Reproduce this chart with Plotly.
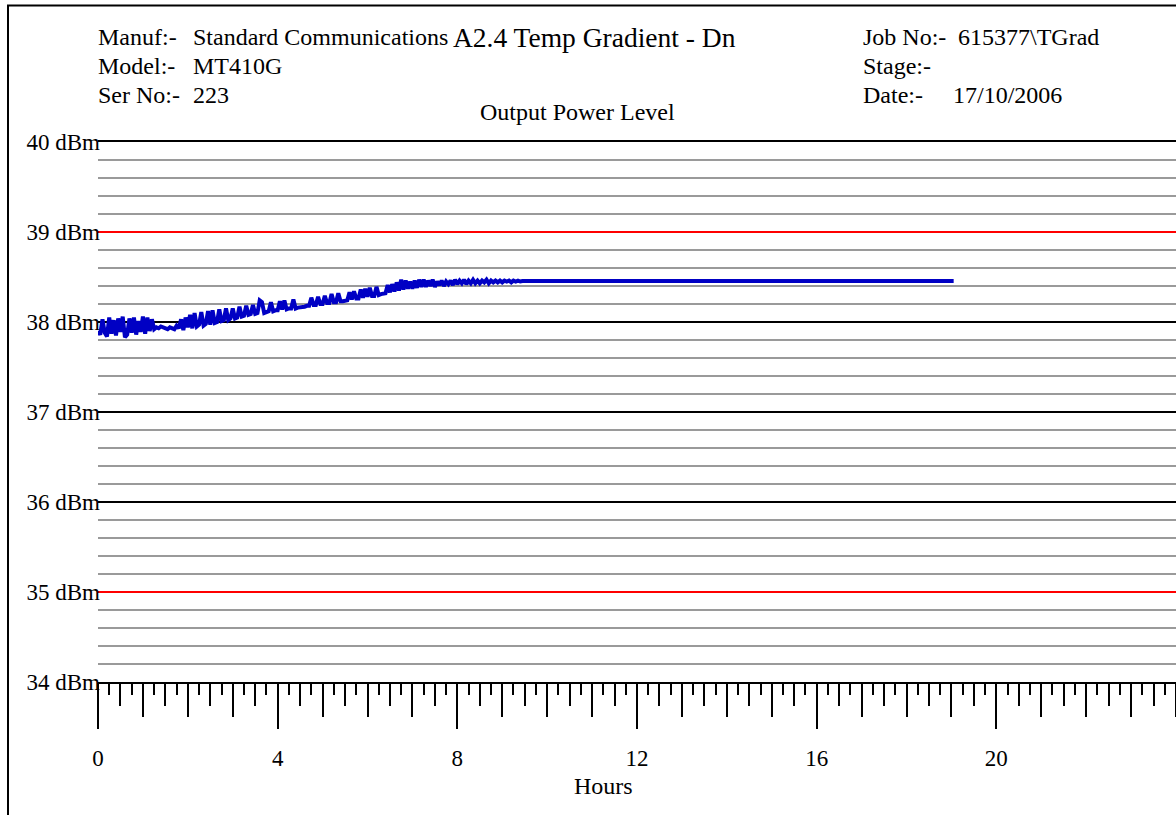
import plotly.graph_objects as go

# ---- data ----
# samples every 0.05 h from 0 to 9.5 h, then the flat part to ~19 h
hours = [round(i * 0.05, 2) for i in range(191)] + [10, 12, 14, 16, 18, 19.05]
power_dbm = [
    37.90, 37.86, 38.03, 37.88, 37.84, 38.05, 37.87, 38.02, 37.85, 38.04,
    37.89, 38.06, 37.83, 37.86, 38.04, 37.88, 38.05, 37.86, 38.01, 37.89,
    38.06, 37.87, 38.05, 37.90, 38.03, 37.92, 37.94, 37.93, 37.95, 37.94,
    37.93, 37.92, 37.94, 37.93, 37.92, 37.96, 37.93, 38.03, 37.91, 38.05,
    37.94, 38.08, 37.93, 38.10, 37.95, 37.97, 38.11, 37.96, 37.98, 38.12,
    37.97, 38.13, 37.99, 38.00, 38.14, 38.01, 38.02, 38.15, 38.02, 38.04,
    38.15, 38.04, 38.05, 38.17, 38.06, 38.07, 38.18, 38.08, 38.09, 38.19,
    38.09, 38.10, 38.24, 38.22, 38.10, 38.11, 38.12, 38.22, 38.12, 38.13,
    38.13, 38.23, 38.14, 38.24, 38.14, 38.15, 38.15, 38.25, 38.15, 38.16,
    38.16, 38.17, 38.17, 38.18, 38.18, 38.27, 38.19, 38.19, 38.28, 38.20,
    38.20, 38.29, 38.21, 38.21, 38.31, 38.22, 38.22, 38.32, 38.23, 38.23,
    38.24, 38.24, 38.33, 38.25, 38.34, 38.26, 38.26, 38.36, 38.27, 38.37,
    38.28, 38.38, 38.29, 38.29, 38.39, 38.30, 38.31, 38.31, 38.32, 38.41,
    38.33, 38.42, 38.34, 38.44, 38.35, 38.47, 38.36, 38.46, 38.37, 38.45,
    38.37, 38.46, 38.38, 38.47, 38.39, 38.47, 38.39, 38.46, 38.40, 38.47,
    38.39, 38.45, 38.41, 38.46, 38.40, 38.45, 38.42, 38.46, 38.41, 38.47,
    38.42, 38.46, 38.43, 38.47, 38.42, 38.46, 38.43, 38.47, 38.43, 38.46,
    38.43, 38.46, 38.44, 38.47, 38.43, 38.46, 38.44, 38.46, 38.44, 38.46,
    38.44, 38.46, 38.45, 38.46, 38.44, 38.46, 38.45, 38.46, 38.45, 38.455,
    38.455,
    38.455, 38.455, 38.455, 38.455, 38.455, 38.455,
]
limit_lines = [35, 39]
x_range = [0, 24]
y_range = [34, 40]
x_label_ticks = [0, 4, 8, 12, 16, 20]

header_left = [("Manuf:-", "Standard Communications"), ("Model:-", "MT410G"), ("Ser No:-", "223")]
header_right = [("Job No:-", "615377\\TGrad"), ("Stage:-", ""), ("Date:-", "17/10/2006")]
title_text = "A2.4 Temp Gradient - Dn"
subtitle_text = "Output Power Level"
x_title = "Hours"

# ---- layout geometry (pixels) ----
W, H = 1176, 815
L, R, T, B = 98, 0, 142, 133
PW, PH = W - L - R, H - T - B
FONT = "Liberation Serif, Times New Roman, serif"


def px(xp):
    return (xp - L) / PW


def py(yp):
    return (H - B - yp) / PH


fig = go.Figure()
fig.add_trace(go.Scatter(x=hours, y=power_dbm, mode="lines",
                         line=dict(color="#0000C4", width=4), showlegend=False,
                         hoverinfo="skip"))
# helper traces so overlay axes are drawn
fig.add_trace(go.Scatter(x=[None], y=[None], xaxis="x2", yaxis="y", showlegend=False))
fig.add_trace(go.Scatter(x=[None], y=[None], xaxis="x3", yaxis="y", showlegend=False))
fig.add_trace(go.Scatter(x=[None], y=[None], xaxis="x", yaxis="y2", showlegend=False))

tickfont = dict(family=FONT, size=23, color="black")

fig.update_layout(
    width=W, height=H,
    margin=dict(l=L, r=R, t=T, b=B, pad=0),
    paper_bgcolor="white", plot_bgcolor="white",
    font=dict(family=FONT, size=24, color="black"),
    xaxis=dict(range=x_range, tickmode="array", tickvals=x_label_ticks,
               ticks="outside", ticklen=45, tickwidth=2, tickcolor="black",
               showgrid=False, zeroline=False, showline=True, mirror=True,
               linecolor="black", linewidth=2, tickfont=tickfont, ticklabelstandoff=9,
               minor=dict(tickmode="linear", tick0=0, dtick=0.25, ticks="outside",
                          ticklen=11, tickwidth=2, tickcolor="black", showgrid=False)),
    xaxis2=dict(range=x_range, overlaying="x", anchor="y", side="bottom",
                tickmode="linear", tick0=0, dtick=1, ticks="outside", ticklen=34,
                tickwidth=2, tickcolor="black", showticklabels=False,
                showgrid=False, zeroline=False, showline=False),
    xaxis3=dict(range=x_range, overlaying="x", anchor="y", side="bottom",
                tickmode="linear", tick0=0, dtick=0.5, ticks="outside", ticklen=23,
                tickwidth=2, tickcolor="black", showticklabels=False,
                showgrid=False, zeroline=False, showline=False),
    yaxis=dict(range=y_range, tickmode="linear", tick0=34, dtick=1,
               ticksuffix=" dBm", ticks="", showline=False, zeroline=False,
               showgrid=True, gridcolor="black", gridwidth=1.6,
               tickfont=tickfont, ticklabelstandoff=-3,
               minor=dict(tickmode="linear", tick0=34, dtick=0.2, showgrid=True,
                          gridcolor="#9a9a9a", gridwidth=1.5)),
    yaxis2=dict(range=y_range, overlaying="y", anchor="x", side="left",
                tickmode="array", tickvals=limit_lines, showticklabels=False,
                ticks="", showgrid=True, gridcolor="#ff0000", gridwidth=1.6,
                zeroline=False, showline=False),
)

ann = []
rows_y = [37, 66, 95]
for (k, v), yy in zip(header_left, rows_y):
    ann.append(dict(text=k, x=px(96), y=py(yy)))
    ann.append(dict(text=v, x=px(191), y=py(yy)))
for (k, v), yy, vx in zip(header_right, rows_y, [956, 956, 951]):
    ann.append(dict(text=k, x=px(861), y=py(yy)))
    if v:
        ann.append(dict(text=v, x=px(vx), y=py(yy)))
for a in ann:
    a.update(xref="paper", yref="paper", xanchor="left", yanchor="middle",
             showarrow=False, font=dict(family=FONT, size=24, color="black"))
ann.append(dict(text=title_text, x=px(451), y=py(38), xref="paper", yref="paper",
                xanchor="left", yanchor="middle", showarrow=False,
                font=dict(family=FONT, size=27.5, color="black")))
ann.append(dict(text=subtitle_text, x=px(577), y=py(112), xref="paper", yref="paper",
                xanchor="center", yanchor="middle", showarrow=False,
                font=dict(family=FONT, size=24, color="black")))
ann.append(dict(text=x_title, x=px(603), y=py(786), xref="paper", yref="paper",
                xanchor="center", yanchor="middle", showarrow=False,
                font=dict(family=FONT, size=24, color="black")))
fig.update_layout(annotations=ann)

# outer frame of the printed sheet
fig.add_shape(type="rect", xref="paper", yref="paper",
              x0=px(8), y0=py(900), x1=px(1300), y1=py(5.5),
              line=dict(color="black", width=2), layer="above")

fig.write_html("out.html")
